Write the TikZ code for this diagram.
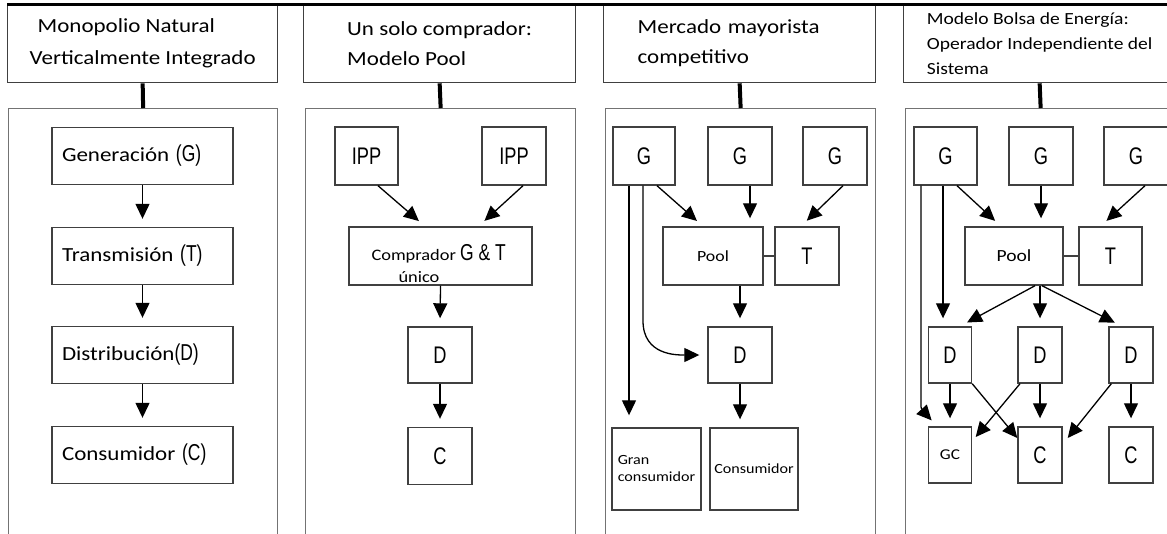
\documentclass[tikz,border=0pt]{standalone}
\usepackage{fontspec}
\setmainfont{Carlito}[FakeStretch=1.15]
\newfontfamily\Letter{Liberation Sans}[FakeStretch=0.76]
\usetikzlibrary{arrows.meta,calc}
\newcommand{\Abbr}[1]{{\Letter\fontsize{23}{26}\selectfont #1}}
\tikzstyle{Header} = [draw=black!75, line width=1.3pt, rectangle, anchor=north west, minimum width=272pt, minimum height=78pt, align=left, font=\fontsize{20}{30}\selectfont]
\tikzstyle{Panel} = [draw=black!55, line width=1.3pt, rectangle, anchor=north west, minimum width=270pt, minimum height=480pt]
\tikzstyle{Stage} = [draw=black!75, line width=1.4pt, rectangle, minimum width=181pt, minimum height=57pt, text width=161pt, inner xsep=10pt, align=left]
\tikzstyle{Unit} = [draw=black!75, line width=1.4pt, rectangle, minimum width=64pt, minimum height=58pt, inner sep=0pt, font=\Letter\fontsize{24}{28}\selectfont]
\tikzstyle{Market} = [draw=black!75, line width=1.4pt, rectangle, minimum height=58pt, inner sep=0pt, font=\fontsize{15.5}{18}\selectfont]
\tikzstyle{Arrow} = [-{Triangle[length=15pt,width=14pt]}, line width=1.3pt, shorten >=8pt]
\tikzstyle{Link} = [line width=4pt]
\tikzstyle{Edge} = [line width=3pt]
\tikzstyle{Tie} = [draw=black!75, line width=1.2pt]

\begin{document}
\begin{tikzpicture}[x=1pt,y=-1pt]
        \tikzstyle{every node} = [font=\fontsize{20}{24}\selectfont]

        \useasboundingbox (0,0) rectangle (1167,533);
        \clip (0,0) rectangle (1167,533);

        %%%%% Headers %%%%%

        \draw node[Header, minimum width=270pt, font=\fontsize{20}{32}\selectfont] at (7,4) (H1) {\hspace*{8pt}Monopolio Natural\\Verticalmente Integrado};
        \draw node[Header] at (303,4) (H2) {Un solo comprador:\\Modelo Pool};
        \draw node[Header, text width=204pt, inner xsep=34pt] at (603,4) (H3) {Mercado mayorista\\competitivo};
        \draw node[Header, font=\fontsize{17}{25}\selectfont] at (903,4) (H4) {Modelo Bolsa de Energía:\\Operador Independiente del\\Sistema};

        \draw node[Panel, minimum width=269pt] at (8,108) (P1) {};
        \draw node[Panel] at (305,108) (P2) {};
        \draw node[Panel] at (605,108) (P3) {};
        \draw node[Panel] at (905,108) (P4) {};

        \draw [Edge] (H1.north west) -- (H4.north east);
        \draw [Link] (H1.south) -- (P1.north);
        \draw [Link] (H2.south) -- (P2.north);
        \draw [Link] (H3.south) -- (P3.north);
        \draw [Link] (H4.south) -- (P4.north);

        %%%%% First Panel %%%%%

        \draw node[Stage] at (142.5,156) (Ga) {Generación \Abbr{(G)}};
        \draw node[Stage] at ($(Ga)+(0,100)$) (Ta) {Transmisión \Abbr{(T)}};
        \draw node[Stage] at ($(Ta)+(0,99)$) (Da) {Distribución\Abbr{(D)}};
        \draw node[Stage] at ($(Da)+(0,100)$) (Ca) {Consumidor \Abbr{(C)}};

        %%%%% Second Panel %%%%%

        \draw node[Unit, minimum width=63pt] at (366.5,156) (Gb1) {IPP};
        \draw node[Unit] at ($(Gb1)+(147.5,0)$) (Gb2) {IPP};
        \draw node[Market, minimum width=183pt, font=\fontsize{16}{22}\selectfont] at (440.5,256) (Sb) {\parbox[c][58pt][t]{138pt}{\vspace*{17pt}Comprador \Abbr{G \& T}\\\hspace*{27pt}único}};
        \draw node[Unit, minimum height=56pt] at ($(Sb)+(-0.5,99)$) (Db) {D};
        \draw node[Unit, minimum height=57pt] at ($(Db)+(0,101)$) (Cb) {C};

        %%%%% Third Panel %%%%%

        \draw node[Unit, minimum width=62pt] at (644,156) (Gc1) {G};
        \draw node[Unit] at ($(Gc1)+(96,0)$) (Gc2) {G};
        \draw node[Unit] at ($(Gc2)+(95,0)$) (Gc3) {G};
        \draw node[Market, minimum width=100pt] at (713,256) (Pc) {Pool};
        \draw node[Unit] at ($(Pc)+(94,0)$) (Tc) {T};
        \draw node[Unit, minimum height=56pt] at (740,355) (Dc) {D};
        \draw node[Market, minimum width=89pt, minimum height=82pt, align=left, font=\fontsize{14}{17}\selectfont] at (656.5,469) (GCc) {Gran\\consumidor};
        \draw node[Market, minimum width=88pt, minimum height=82pt, font=\fontsize{14}{17}\selectfont] at ($(GCc)+(97.5,0)$) (Cc) {Consumidor};

        %%%%% Fourth Panel %%%%%

        \draw node[Unit, minimum width=63pt] at (945.5,156) (Gd1) {G};
        \draw node[Unit] at ($(Gd1)+(95.5,0)$) (Gd2) {G};
        \draw node[Unit] at ($(Gd2)+(95,0)$) (Gd3) {G};
        \draw node[Market, minimum width=98pt, font=\fontsize{17}{20}\selectfont] at (1014,256) (Pd) {Pool};
        \draw node[Unit, minimum width=63pt] at ($(Pd)+(96.5,0)$) (Td) {T};
        \draw node[Unit, minimum width=43pt, minimum height=56pt] at (950,355) (Dd1) {D};
        \draw node[Unit, minimum width=44pt, minimum height=56pt] at ($(Dd1)+(90,0)$) (Dd2) {D};
        \draw node[Unit, minimum width=44pt, minimum height=56pt] at ($(Dd2)+(91,0)$) (Dd3) {D};
        \draw node[Market, minimum width=43pt, minimum height=56pt, font=\fontsize{15}{18}\selectfont] at ($(Dd1)+(0,100)$) (GCd) {GC};
        \draw node[Unit, minimum width=44pt, minimum height=56pt] at ($(Dd2)+(0,100)$) (Cd1) {C};
        \draw node[Unit, minimum width=44pt, minimum height=56pt] at ($(Dd3)+(0,100)$) (Cd2) {C};

        %%%%% Connecting Arrows %%%%%

        \draw [Arrow] (Ga) -- (Ta);
        \draw [Arrow] (Ta) -- (Da);
        \draw [Arrow] (Da) -- (Ca);

        \draw [Arrow] ([xshift=11.5pt]Gb1.south) -- ([xshift=-15.5pt]Sb.north);
        \draw [Arrow] ([xshift=9pt]Gb2.south) -- ([xshift=38pt]Sb.north);
        \draw [Arrow] (Sb.south) -- (Db.north);
        \draw [Arrow] (Db) -- (Cb);

        \draw [Arrow, shorten >=12pt] ([xshift=-15pt]Gc1.south) -- ([xshift=-27.5pt]GCc.north);
        \draw [Arrow] ([xshift=-1pt]Gc1.south) -- ++(0,135) .. controls +(0,35) and ([xshift=-30pt]Dc.west) .. (Dc.west);
        \draw [Arrow] ([xshift=13pt]Gc1.south) -- ([xshift=-10pt]Pc.north);
        \draw [Arrow] ([xshift=10pt]Gc2.south) -- ([xshift=37pt]Pc.north);
        \draw [Arrow] ([xshift=8pt]Gc3.south) -- ([xshift=-6pt]Tc.north);
        \draw [Tie] (Pc.east) -- (Tc.west);
        \draw [Arrow] ([xshift=27pt]Pc.south) -- (Dc.north);
        \draw [Arrow] (Dc.south) -- ([xshift=-14pt]Cc.north);

        \draw [Arrow] ([xshift=-24.5pt]Gd1.south) -- ++(0,210) .. controls +(0,13) .. ([xshift=-13pt]GCd.north);
        \draw [Arrow] ([xshift=-2.5pt]Gd1.south) -- ([xshift=-7pt]Dd1.north);
        \draw [Arrow] ([xshift=11.5pt]Gd1.south) -- ([xshift=-13pt]Pd.north);
        \draw [Arrow] (Gd2.south) -- ([xshift=27pt]Pd.north);
        \draw [Arrow] ([xshift=9pt]Gd3.south) -- ([xshift=-10pt]Td.north);
        \draw [Tie] (Pd.east) -- (Td.west);
        \draw [Arrow] ([xshift=21pt]Pd.south) -- ([xshift=10pt]Dd1.north);
        \draw [Arrow] ([xshift=26pt]Pd.south) -- (Dd2.north);
        \draw [Arrow] ([xshift=28pt]Pd.south) -- ([xshift=-9pt]Dd3.north);
        \draw [Arrow] (Dd1.south) -- (GCd.north);
        \draw [Arrow, shorten >=0pt] (Dd1.south east) -- ([yshift=17pt]Cd1.west);
        \draw [Arrow, shorten >=0pt] ([xshift=-20pt]Dd2.south) -- ([xshift=3.5pt,yshift=18pt]GCd.east);
        \draw [Arrow] (Dd2.south) -- (Cd1.north);
        \draw [Arrow, shorten >=0pt] ([xshift=3pt]Dd3.south west) -- ([xshift=5pt,yshift=17pt]Cd1.east);
        \draw [Arrow] (Dd3.south) -- (Cd2.north);

\end{tikzpicture}
\end{document}
